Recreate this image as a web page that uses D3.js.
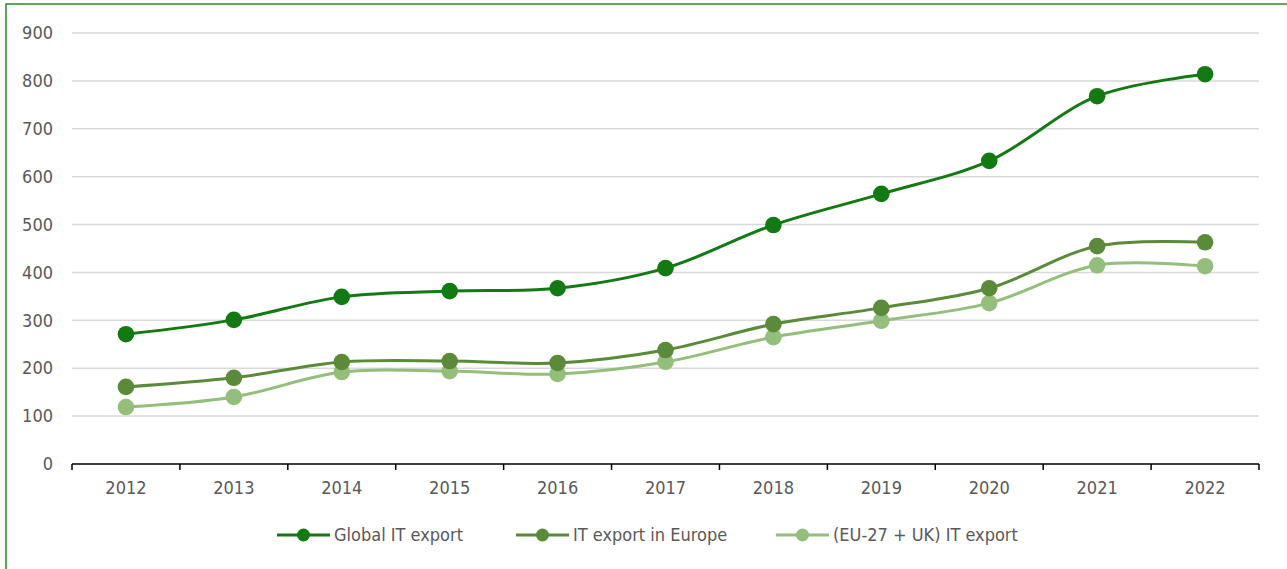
<!DOCTYPE html>
<html>
<head>
<meta charset="utf-8">
<script src="https://cdn.jsdelivr.net/npm/d3@7"></script>
<style>
  body { margin: 0; background: #fff; }
  text { font-family: "DejaVu Sans Condensed", "DejaVu Sans", sans-serif; fill: #595959; }
</style>
</head>
<body>
<div id="chart"></div>
<script>
(function () {

  var years = ['2012', '2013', '2014', '2015', '2016', '2017', '2018', '2019', '2020', '2021', '2022']
  var globalExport = [271, 301, 349, 361, 367, 409, 499, 564, 633, 768, 814]
  var europeExport = [161, 180, 213, 215, 211, 238, 292, 326, 367, 455, 463]
  var euUkExport = [119, 140, 192, 194, 188, 213, 265, 299, 336, 415, 413]
  var yTicks = [0, 100, 200, 300, 400, 500, 600, 700, 800, 900]
  var seriesNames = ['Global IT export', 'IT export in Europe', '(EU-27 + UK) IT export']
  var seriesColors = ['#137a13', '#5a8a3a', '#93be7c']

  var series = [globalExport, europeExport, euUkExport].map(function (vals, i) {
    return { name: seriesNames[i], color: seriesColors[i], values: vals }
  })

  var width = 1287, height = 569

  var svg = d3.select('#chart').append('svg')
    .attr('width', width)
    .attr('height', height)

  // frame
  svg.append('rect')
    .attr('x', 6).attr('y', 4)
    .attr('width', 1400).attr('height', 700)
    .attr('fill', 'none')
    .attr('stroke', '#2a8a22')
    .attr('stroke-width', 1.5)

  var xScale = d3.scaleBand()
    .domain(years)
    .range([72, 1259])
    .padding(0)

  var yScale = d3.scaleLinear()
    .domain([0, 900])
    .range([464, 33])

  // gridlines
  svg.append('g')
    .selectAll('line')
    .data(yTicks.slice(1))
    .enter().append('line')
    .attr('x1', 72).attr('x2', 1259)
    .attr('y1', d => yScale(d)).attr('y2', d => yScale(d))
    .attr('stroke', '#d9d9d9')
    .attr('stroke-width', 1.5)

  // y axis labels
  var yAxis = d3.axisLeft(yScale).tickValues(yTicks).tickSize(0).tickPadding(19)
  var yg = svg.append('g')
    .attr('class', 'axis y-axis')
    .attr('transform', 'translate(72,0)')
    .call(yAxis)
  yg.select('.domain').remove()
  yg.selectAll('text')
    .style('font-size', '18px')
    .attr('fill', '#595959')

  // x axis
  var xAxis = d3.axisBottom(xScale).tickSize(0).tickPadding(17)
  var xg = svg.append('g')
    .attr('class', 'axis x-axis')
    .attr('transform', 'translate(0,464)')
    .call(xAxis)
  xg.select('.domain').remove()
  xg.selectAll('text')
    .style('font-size', '18px')
    .attr('fill', '#595959')

  xg.append('line')
    .attr('x1', 72).attr('x2', 1259)
    .attr('y1', 0).attr('y2', 0)
    .attr('stroke', '#000').attr('stroke-width', 1.5)

  var boundaries = years.map(d => xScale(d)).concat([xScale.range()[1]])
  xg.selectAll('.bt')
    .data(boundaries)
    .enter().append('line')
    .attr('class', 'bt')
    .attr('x1', d => d).attr('x2', d => d)
    .attr('y1', 0).attr('y2', 6)
    .attr('stroke', '#000').attr('stroke-width', 1.5)

  var cx = d => xScale(d) + xScale.bandwidth() / 2

  var line = d3.line()
    .x((d, i) => cx(years[i]))
    .y(d => yScale(d))
    .curve(d3.curveCatmullRom.alpha(0.5))

  // draw lighter series first
  series.slice().reverse().forEach(function (s) {
    svg.append('path')
      .datum(s.values)
      .attr('d', line)
      .attr('fill', 'none')
      .attr('stroke', s.color)
      .attr('stroke-width', 3)

    svg.append('g')
      .selectAll('circle')
      .data(s.values)
      .enter().append('circle')
      .attr('cx', (d, i) => cx(years[i]))
      .attr('cy', d => yScale(d))
      .attr('r', 8.3)
      .attr('fill', s.color)
  })

  // legend
  var legendX = [277, 516, 776]
  var legend = svg.append('g')
    .selectAll('g')
    .data(series)
    .enter().append('g')
    .attr('transform', (d, i) => 'translate(' + legendX[i] + ',535)')

  legend.append('line')
    .attr('x1', 0).attr('x2', 53)
    .attr('y1', 0).attr('y2', 0)
    .attr('stroke', d => d.color)
    .attr('stroke-width', 3)

  legend.append('circle')
    .attr('cx', 26.5).attr('cy', 0)
    .attr('r', 6.5)
    .attr('fill', d => d.color)

  legend.append('text')
    .attr('x', 57)
    .attr('y', 0)
    .attr('dy', '0.35em')
    .style('font-size', '18px')
    .text(d => d.name)

})()
</script>
</body>
</html>
